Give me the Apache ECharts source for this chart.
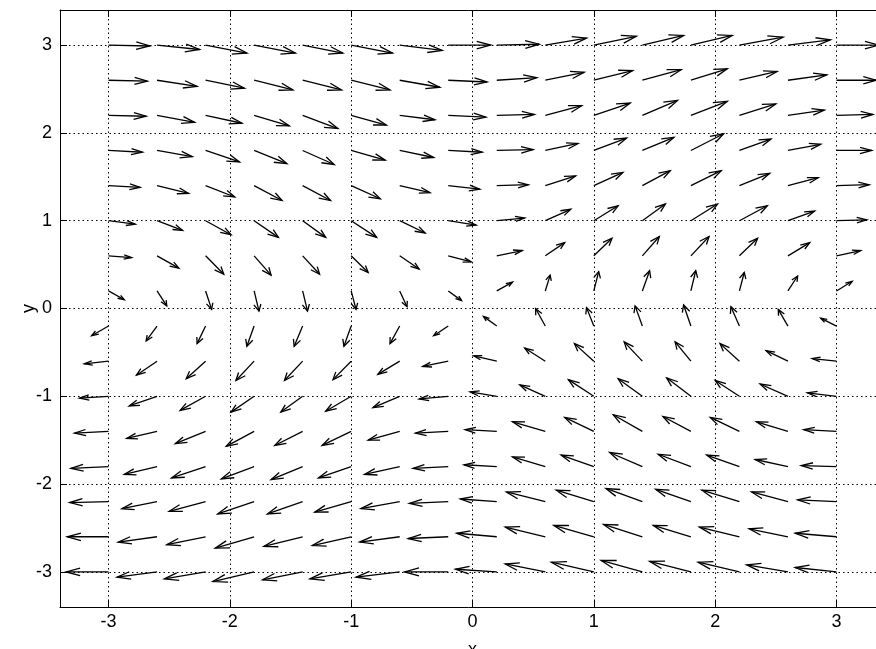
<!DOCTYPE html>
<html>
<head>
<meta charset="utf-8">
<script src="https://cdn.jsdelivr.net/npm/echarts@6/dist/echarts.min.js"></script>
<style>
html, body { margin: 0; padding: 0; background: #fff; }
#chart { width: 876px; height: 649px; }
</style>
</head>
<body>
<div id="chart"></div>
<script>
// arrow tails: columns (x) and rows (y, top to bottom)
const xs = [-3, -2.6, -2.2, -1.8, -1.4, -1, -0.6, -0.2, 0.2, 0.6, 1, 1.4, 1.8, 2.2, 2.6, 3];
const ys = [3, 2.6, 2.2, 1.8, 1.4, 1, 0.6, 0.2, -0.2, -0.6, -1, -1.4, -1.8, -2.2, -2.6, -3];
const tickValues = [-3, -2, -1, 0, 1, 2, 3];

// drawn arrow components (axis units), one row per y value
const U = [
  [.34, .35, .34, .34, .33, .34, .35, .35, .35, .34, .35, .34, .34, .36, .35, .35],
  [.32, .33, .32, .32, .32, .32, .33, .32, .33, .32, .32, .32, .30, .31, .32, .33],
  [.31, .31, .30, .29, .29, .29, .29, .31, .31, .30, .30, .29, .30, .30, .30, .30],
  [.28, .29, .28, .27, .26, .28, .28, .28, .30, .27, .27, .26, .27, .26, .27, .29],
  [.26, .26, .24, .23, .23, .24, .25, .26, .26, .25, .24, .23, .25, .25, .25, .27],
  [.22, .21, .21, .20, .19, .21, .21, .23, .23, .21, .20, .19, .22, .23, .22, .25],
  [.19, .18, .15, .14, .14, .14, .16, .19, .21, .16, .15, .14, .15, .15, .18, .20],
  [.13, .08, .05, .04, .04, .04, .06, .11, .13, .04, .04, .06, .04, .04, .08, .13],
  [-.14, -.09, -.07, -.06, -.07, -.06, -.08, -.12, -.11, -.08, -.06, -.06, -.06, -.07, -.08, -.13],
  [-.20, -.17, -.16, -.15, -.15, -.15, -.18, -.21, -.19, -.17, -.16, -.15, -.13, -.16, -.18, -.20],
  [-.24, -.23, -.21, -.19, -.18, -.21, -.22, -.24, -.22, -.21, -.21, -.20, -.20, -.20, -.23, -.24],
  [-.28, -.25, -.25, -.23, -.23, -.24, -.26, -.27, -.26, -.27, -.24, -.24, -.23, -.24, -.26, -.27],
  [-.31, -.27, -.28, -.27, -.26, -.27, -.29, -.29, -.27, -.27, -.27, -.27, -.27, -.27, -.27, -.29],
  [-.32, -.29, -.30, -.30, -.29, -.30, -.32, -.32, -.30, -.32, -.31, -.30, -.29, -.31, -.30, -.32],
  [-.34, -.32, -.32, -.32, -.32, -.32, -.33, -.33, -.33, -.33, -.33, -.32, -.31, -.33, -.32, -.34],
  [-.35, -.33, -.34, -.34, -.33, -.34, -.36, -.36, -.34, -.33, -.35, -.34, -.34, -.34, -.34, -.34]
];
const V = [
  [-.01, -.05, -.09, -.09, -.09, -.09, -.06, 0, .01, .08, .10, .11, .11, .09, .06, 0],
  [-.01, -.07, -.09, -.11, -.11, -.11, -.08, -.02, .03, .09, .11, .12, .13, .10, .06, 0],
  [-.01, -.08, -.09, -.12, -.15, -.11, -.05, -.02, .01, .11, .14, .17, .16, .13, .06, .01],
  [-.02, -.07, -.13, -.15, -.16, -.11, -.08, -.02, .01, .08, .14, .15, .19, .13, .07, 0],
  [-.02, -.09, -.13, -.17, -.17, -.15, -.08, -.04, .01, .11, .15, .17, .17, .14, .09, .01],
  [-.04, -.11, -.16, -.19, -.19, -.19, -.14, -.05, .03, .13, .17, .19, .19, .17, .11, .01],
  [-.02, -.14, -.21, -.22, -.21, -.19, -.15, -.07, .06, .15, .20, .22, .22, .20, .15, .06],
  [-.10, -.17, -.21, -.23, -.23, -.21, -.18, -.11, .10, .18, .22, .23, .23, .21, .17, .11],
  [-.11, -.17, -.20, -.23, -.23, -.23, -.20, -.11, .11, .20, .21, .23, .24, .22, .19, .09],
  [-.03, -.16, -.20, -.22, -.22, -.21, -.15, -.06, .06, .15, .20, .22, .22, .20, .12, .03],
  [-.02, -.11, -.16, -.18, -.18, -.17, -.13, -.03, .05, .13, .19, .20, .21, .18, .14, .04],
  [-.02, -.08, -.14, -.17, -.16, -.16, -.10, -.02, .02, .11, .16, .19, .17, .16, .11, .02],
  [-.02, -.09, -.13, -.14, -.15, -.13, -.09, -.02, .02, .11, .13, .16, .14, .13, .08, .01],
  [-.01, -.08, -.11, -.14, -.14, -.12, -.08, -.02, .03, .11, .13, .15, .14, .13, .11, .02],
  [0, -.06, -.09, -.13, -.11, -.10, -.06, -.02, .04, .11, .13, .14, .13, .11, .09, .04],
  [0, -.06, -.08, -.11, -.09, -.08, -.06, 0, .03, .09, .11, .13, .12, .11, .08, .05]
];

const arrowData = [];
ys.forEach((y, i) => {
  xs.forEach((x, j) => {
    arrowData.push([x, y, U[i][j], V[i][j]]);
  });
});

const font = 'Liberation Sans, Helvetica, Arial, sans-serif';

// quiver style arrow: shaft plus two head strokes
function renderArrow(params, api) {
  const x = api.value(0);
  const y = api.value(1);
  const u = api.value(2);
  const v = api.value(3);
  const a = 0.33;
  const b = 0.38;
  const tail = api.coord([x, y]);
  const tip = api.coord([x + u, y + v]);
  const h1 = api.coord([x + u - a * (u + b * v), y + v - a * (v - b * u)]);
  const h2 = api.coord([x + u - a * (u - b * v), y + v - a * (v + b * u)]);
  const style = { stroke: '#000', lineWidth: 1.3, fill: null };
  return {
    type: 'group',
    children: [
      { type: 'polyline', shape: { points: [tail, tip] }, style: style },
      { type: 'polyline', shape: { points: [h1, tip, h2] }, style: style }
    ]
  };
}

const chart = echarts.init(document.getElementById('chart'));

const axisLine = { show: true, onZero: false, lineStyle: { color: '#000', width: 1 } };
const tick = { show: true, inside: true, length: 7, customValues: tickValues, lineStyle: { color: '#000', width: 1 } };
const grid = { show: true, lineStyle: { color: '#000', width: 1, type: [1.5, 3] } };

chart.setOption({
  animation: false,
  backgroundColor: '#fff',
  grid: { left: 60, top: 10, width: 825, height: 597, outerBoundsMode: 'none' },
  xAxis: [
    {
      type: 'value', min: -3.4, max: 3.4, position: 'bottom',
      axisLine: axisLine, axisTick: tick, splitLine: grid,
      axisLabel: { customValues: tickValues, color: '#000', fontSize: 18, fontFamily: font, margin: 6 },
      name: 'x', nameLocation: 'middle', nameGap: 34, nameMoveOverlap: false,
      nameTextStyle: { color: '#000', fontSize: 18, fontFamily: font }
    },
    {
      type: 'value', min: -3.4, max: 3.4, position: 'top',
      axisLine: axisLine, axisTick: tick, splitLine: { show: false }, axisLabel: { show: false }
    }
  ],
  yAxis: [
    {
      type: 'value', min: -3.4, max: 3.4, position: 'left',
      axisLine: axisLine, axisTick: tick, splitLine: grid,
      axisLabel: { customValues: tickValues, color: '#000', fontSize: 18, fontFamily: font, margin: 8 },
      name: 'y', nameLocation: 'middle', nameGap: 22, nameMoveOverlap: false,
      nameTextStyle: { color: '#000', fontSize: 18, fontFamily: font }
    },
    {
      type: 'value', min: -3.4, max: 3.4, position: 'right',
      axisLine: axisLine, axisTick: tick, splitLine: { show: false }, axisLabel: { show: false }
    }
  ],
  series: [
    {
      type: 'custom',
      xAxisIndex: 0,
      yAxisIndex: 0,
      clip: false,
      renderItem: renderArrow,
      encode: { x: 0, y: 1 },
      data: arrowData,
      silent: true
    }
  ]
});
</script>
</body>
</html>
